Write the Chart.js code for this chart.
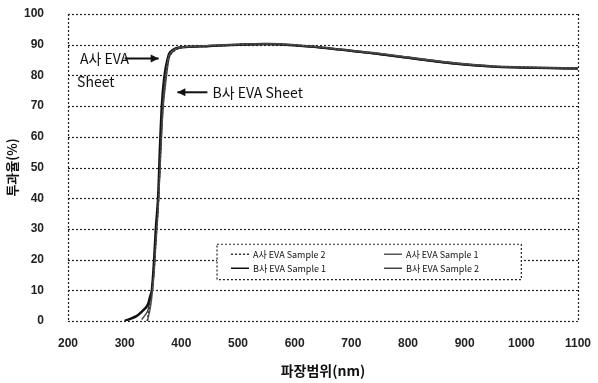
<!DOCTYPE html>
<html>
<head>
<meta charset="utf-8">
<script src="https://cdn.jsdelivr.net/npm/chart.js@4"></script>
<style>
  body { margin: 0; background: #fff; }
  #wrap { width: 598px; height: 383px; }
</style>
</head>
<body>
<div id="wrap"><canvas id="transmittance-chart"></canvas></div>
<script>
// wavelength (nm) and transmittance (%)
const wavelength = [300, 320, 330, 340, 345, 348, 352, 355, 359, 362, 365, 368, 372, 376, 380, 390, 400, 450, 500, 550, 600, 650, 700, 750, 800, 850, 900, 950, 1000, 1050, 1100]
const aSample2 = [null, null, null, 0, 6, 10, 17, 26, 37, 50, 63, 73, 80, 84, 86.5, 88.3, 89, 89.5, 90, 90.2, 89.8, 89, 88, 86.9, 85.7, 84.5, 83.5, 82.9, 82.6, 82.4, 82.2]
const aSample1 = [null, null, null, 0, 4, 8, 16, 25, 36, 48, 60, 71, 79, 84.5, 87, 88.6, 89.2, 89.7, 90.1, 90.3, 89.9, 89.1, 88.1, 87.1, 85.9, 84.7, 83.7, 83, 82.7, 82.5, 82.4]
const bSample1 = [0, 1.5, 3, 5, 8, 10, 20, 30, 40, 55, 68, 76, 82, 85.5, 87.5, 88.8, 89.2, 89.6, 90, 90.2, 89.8, 89, 88, 87, 85.8, 84.6, 83.6, 82.9, 82.6, 82.4, 82.3]
const bSample2 = [null, null, 0.5, 3, 7, 10, 18, 27, 38, 50, 61, 70, 77, 83, 86.5, 88.5, 89.1, 89.5, 89.9, 90.1, 89.7, 88.9, 87.9, 86.8, 85.6, 84.4, 83.4, 82.8, 82.5, 82.3, 82.1]

const seriesLabels = ['A사 EVA Sample 2', 'A사 EVA Sample 1', 'B사 EVA Sample 1', 'B사 EVA Sample 2']
const xTitle = '파장범위(nm)'
const yTitle = '투과율(%)'
const noteA = ['A사 EVA', 'Sheet']
const noteB = 'B사 EVA Sheet'

const toPoints = vals => wavelength.map((w, i) => ({ x: w, y: vals[i] }))

const tickFont = { family: 'Liberation Sans', size: 12, weight: 'bold' }

// dotted frame + grid, legend box and arrows drawn over the plot
const notesPlugin = {
    id: 'notes',
    beforeDatasetsDraw(chart) {
        const ctx = chart.ctx
        const xs = chart.scales.x
        const ys = chart.scales.y
        const a = chart.chartArea
        ctx.save()
        ctx.strokeStyle = '#222'
        ctx.lineWidth = 1.2
        ctx.setLineDash([2, 2])
        ys.ticks.forEach(t => {
            const y = Math.round(ys.getPixelForValue(t.value)) + 0.5
            ctx.beginPath()
            ctx.moveTo(a.left, y)
            ctx.lineTo(a.right, y)
            ctx.stroke()
        })
        ;[xs.min, xs.max].forEach(v => {
            const x = Math.round(xs.getPixelForValue(v)) + 0.5
            ctx.beginPath()
            ctx.moveTo(x, a.top)
            ctx.lineTo(x, a.bottom)
            ctx.stroke()
        })
        ctx.restore()
    },
    afterDatasetsDraw(chart) {
        const ctx = chart.ctx
        const xs = chart.scales.x
        const ys = chart.scales.y
        ctx.save()
        ctx.fillStyle = '#111'
        ctx.strokeStyle = '#111'
        ctx.font = '14px "Noto Sans CJK KR"'
        ctx.textBaseline = 'middle'

        // A company note
        ctx.textAlign = 'left'
        ctx.fillText(noteA[0], xs.getPixelForValue(221), ys.getPixelForValue(85.5))
        ctx.fillText(noteA[1], xs.getPixelForValue(216), ys.getPixelForValue(78))
        drawArrow(ctx, xs.getPixelForValue(300), ys.getPixelForValue(85.5), xs.getPixelForValue(360), ys.getPixelForValue(85.5))

        // B company note
        ctx.fillText(noteB, xs.getPixelForValue(455), ys.getPixelForValue(74.5))
        drawArrow(ctx, xs.getPixelForValue(446), ys.getPixelForValue(74.5), xs.getPixelForValue(393), ys.getPixelForValue(74.5))

        // legend
        const left = xs.getPixelForValue(463)
        const right = xs.getPixelForValue(1000)
        const top = ys.getPixelForValue(25)
        const bottom = ys.getPixelForValue(13.5)
        ctx.fillStyle = '#fff'
        ctx.fillRect(left, top, right - left, bottom - top)
        ctx.setLineDash([2, 2])
        ctx.lineWidth = 1.2
        ctx.strokeStyle = '#222'
        ctx.strokeRect(left, top, right - left, bottom - top)
        ctx.setLineDash([])
        ctx.font = '9px "Noto Sans CJK KR"'
        ctx.fillStyle = '#111'
        chart.data.datasets.forEach((ds, i) => {
            const col = i % 2
            const row = Math.floor(i / 2)
            const lx = left + 14 + col * 153
            const ly = top + 10 + row * 14
            ctx.strokeStyle = ds.borderColor
            ctx.lineWidth = 1.5
            ctx.setLineDash(ds.borderDash || [])
            ctx.beginPath()
            ctx.moveTo(lx, ly)
            ctx.lineTo(lx + 18, ly)
            ctx.stroke()
            ctx.setLineDash([])
            ctx.fillText(ds.label, lx + 22, ly)
        })
        ctx.restore()
    }
}

function drawArrow(ctx, x1, y1, x2, y2) {
    ctx.lineWidth = 2
    ctx.beginPath()
    ctx.moveTo(x1, y1)
    ctx.lineTo(x2, y2)
    ctx.stroke()
    const dir = Math.sign(x2 - x1)
    ctx.beginPath()
    ctx.moveTo(x2, y2)
    ctx.lineTo(x2 - dir * 8, y2 - 4)
    ctx.lineTo(x2 - dir * 8, y2 + 4)
    ctx.closePath()
    ctx.fill()
}

new Chart(document.getElementById('transmittance-chart'), {
    type: 'line',
    data: {
        datasets: [
            { label: seriesLabels[0], data: toPoints(aSample2), borderColor: '#333', borderWidth: 1.5, borderDash: [2, 2] },
            { label: seriesLabels[1], data: toPoints(aSample1), borderColor: '#555', borderWidth: 1.5 },
            { label: seriesLabels[2], data: toPoints(bSample1), borderColor: '#111', borderWidth: 2.5 },
            { label: seriesLabels[3], data: toPoints(bSample2), borderColor: '#444', borderWidth: 1.5 }
        ]
    },
    options: {
        responsive: true,
        maintainAspectRatio: false,
        animation: false,
        layout: { padding: { top: 0, right: 20, left: 0, bottom: 0 } },
        elements: { point: { radius: 0 }, line: { tension: 0.3 } },
        plugins: { legend: { display: false }, tooltip: { enabled: false } },
        scales: {
            x: {
                type: 'linear',
                min: 200,
                max: 1100,
                ticks: { stepSize: 100, color: '#222', font: tickFont, padding: 7, callback: v => String(v) },
                grid: { display: false },
                border: { display: false },
                title: { display: true, text: xTitle, color: '#111', font: { family: 'Noto Sans CJK KR', size: 14, weight: 'bold' }, padding: { top: 1 } },
                afterFit: s => { s.height = 62 }
            },
            y: {
                min: 0,
                max: 100,
                ticks: { stepSize: 10, color: '#222', font: tickFont, padding: 16 },
                grid: { display: false },
                border: { display: false },
                title: { display: true, text: yTitle, color: '#111', font: { family: 'Noto Sans CJK KR', size: 13, weight: 'bold' } },
                afterFit: s => { s.width = 68; s.paddingTop = 14; s.paddingBottom = 7 }
            }
        }
    },
    plugins: [notesPlugin]
})
</script>
</body>
</html>
